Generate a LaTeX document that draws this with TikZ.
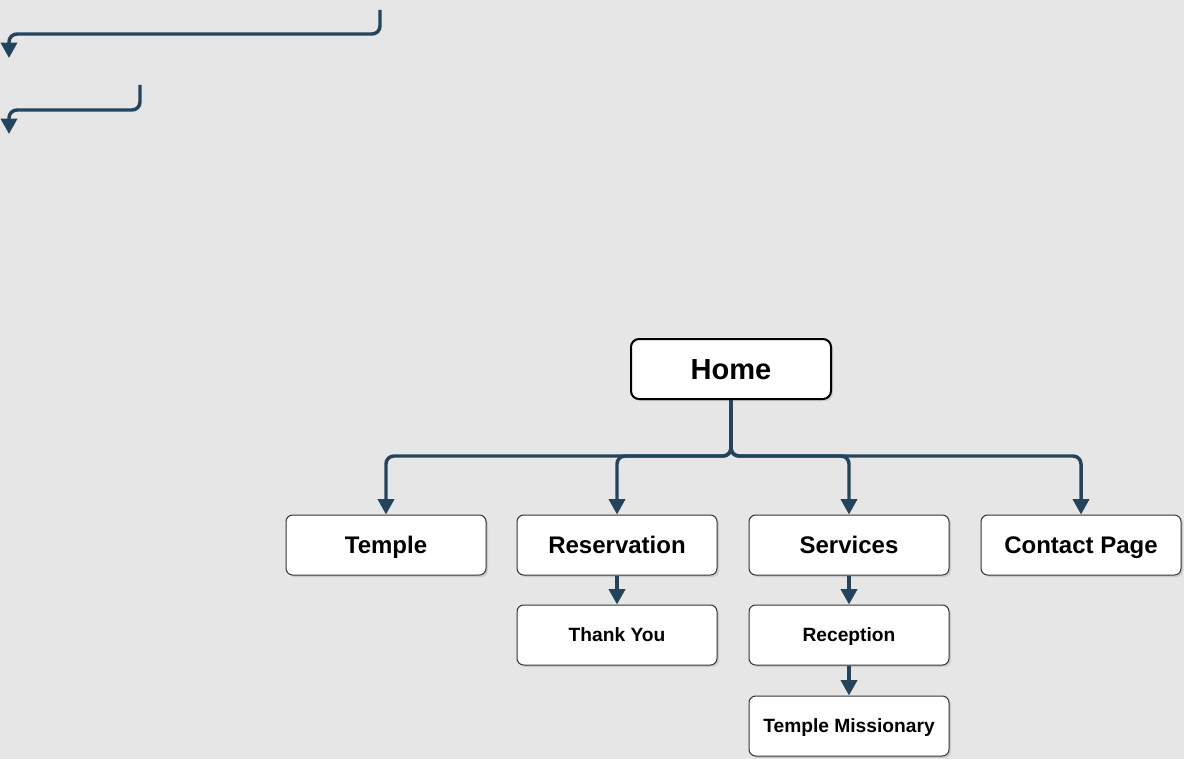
\documentclass[tikz,border=0pt]{standalone}
\usepackage{fontspec}
\setmainfont{Liberation Sans}
\usetikzlibrary{arrows.meta,shadows}
\definecolor{linkblue}{HTML}{23445D}
\definecolor{bgrey}{HTML}{E6E6E6}

\begin{document}
\begin{tikzpicture}[x=0.75pt,y=-0.75pt,
  homebox/.style={draw=black,line width=1.5pt,fill=white,rounded corners=6pt,
    minimum width=150pt,minimum height=45pt,font=\fontsize{21.8}{24}\selectfont\bfseries,
    text height=15.6pt,text depth=0pt,
    drop shadow={shadow xshift=1.5pt,shadow yshift=-1.5pt,opacity=0.25}},
  pagebox/.style={draw=black!80,line width=0.75pt,fill=white,rounded corners=5pt,
    minimum width=150pt,minimum height=45pt,font=\fontsize{18}{21}\selectfont\bfseries,
    text height=12.9pt,text depth=0pt,
    drop shadow={shadow xshift=1.5pt,shadow yshift=-1.5pt,opacity=0.25}},
  subbox/.style={pagebox,font=\fontsize{14.4}{17}\selectfont\bfseries,text height=10.3pt},
  link/.style={draw=linkblue,line width=2.6pt,rounded corners=6pt,
    -{Triangle[length=11.5pt,width=12pt]}}]

\fill[bgrey] (0,0) rectangle (1184,759);
\useasboundingbox (0,0) rectangle (1184,759);

\node[homebox] (v1) at (731,369) {Home};
\node[pagebox] (v2) at (386,545) {Temple};
\node[pagebox] (v3) at (617,545) {Reservation};
\node[pagebox] (v4) at (849,545) {Services};
\node[pagebox] (v5) at (1081,545) {Contact Page};
\node[subbox] (v6) at (617,635) {Thank You};
\node[subbox] (v7) at (849,635) {Reception};
\node[subbox] (v8) at (849,726) {Temple Missionary};

\draw[link] (v1.south) -- ++(0,56) -| (v2.north);
\draw[link] (v1.south) -- ++(0,56) -| (v3.north);
\draw[link] (v1.south) -- ++(0,56) -| (v4.north);
\draw[link] (v1.south) -- ++(0,56) -| (v5.north);
\draw[link] (v3.south) -- (v6.north);
\draw[link] (v4.south) -- (v7.north);
\draw[link] (v7.south) -- (v8.north);

\coordinate (v9) at (380,10);
\coordinate (v10) at (9,58);
\coordinate (v11) at (140,85);
\coordinate (v12) at (9,134);
\draw[link] (v9) -- ++(0,24) -| (v10);
\draw[link] (v11) -- ++(0,25) -| (v12);
\end{tikzpicture}
\end{document}
